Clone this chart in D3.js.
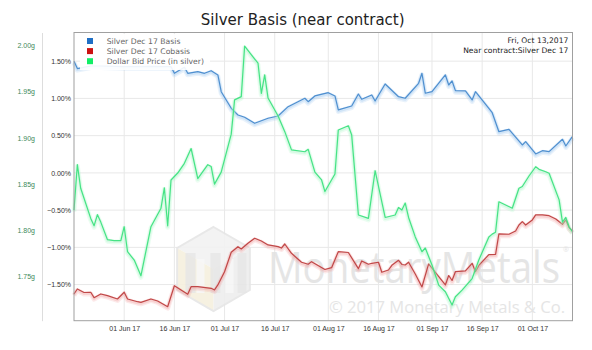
<!DOCTYPE html>
<html>
<head>
<meta charset="utf-8">
<script src="https://cdn.jsdelivr.net/npm/d3@7"></script>
<style>
  body { margin: 0; background: #fff; }
  svg { display: block; font-family: "DejaVu Sans", sans-serif; }
</style>
</head>
<body>
<div id="chart"></div>
<script>
// Data
const basisDates = ["2017-05-17","2017-05-18","2017-05-22","2017-05-25","2017-06-01","2017-06-09","2017-06-15","2017-06-16",
  "2017-06-19","2017-06-20","2017-06-23","2017-06-25","2017-06-27","2017-06-29","2017-06-30","2017-07-03","2017-07-05",
  "2017-07-07","2017-07-10","2017-07-14","2017-07-17","2017-07-20","2017-07-25","2017-07-26","2017-07-28","2017-08-01",
  "2017-08-03","2017-08-04","2017-08-08","2017-08-10","2017-08-11","2017-08-14","2017-08-15","2017-08-18","2017-08-22",
  "2017-08-24","2017-08-28","2017-08-29","2017-08-30","2017-09-01","2017-09-05","2017-09-06","2017-09-07","2017-09-08",
  "2017-09-11","2017-09-13","2017-09-14","2017-09-18","2017-09-19","2017-09-21","2017-09-24","2017-09-28","2017-09-29",
  "2017-10-02","2017-10-04","2017-10-06","2017-10-10","2017-10-11","2017-10-13"];
const basisValues = [1.50,1.40,1.435,1.435,1.426,1.43,1.426,1.337,
  1.418,1.337,1.359,1.337,1.372,1.315,1.09,0.867,0.777,
  0.747,0.666,0.733,0.764,0.889,1.002,0.956,1.033,1.077,
  1.033,0.845,0.898,1.059,0.988,1.046,0.965,1.194,1.023,
  1.002,1.203,1.337,1.069,1.090,1.315,1.180,1.234,1.104,
  1.100,0.979,1.090,0.867,0.808,0.553,0.585,0.375,0.419,
  0.254,0.298,0.285,0.451,0.361,0.489];

const cobasisDates = ["2017-05-17","2017-05-18","2017-05-20","2017-05-22","2017-05-23","2017-05-25","2017-05-27","2017-05-30",
  "2017-06-01","2017-06-02","2017-06-05","2017-06-06","2017-06-09","2017-06-11","2017-06-14","2017-06-16","2017-06-20",
  "2017-06-21","2017-06-23","2017-06-27","2017-06-28","2017-06-29","2017-07-01","2017-07-03","2017-07-05","2017-07-06",
  "2017-07-08","2017-07-10","2017-07-12","2017-07-14","2017-07-17","2017-07-18","2017-07-19","2017-07-21","2017-07-24",
  "2017-07-26","2017-07-27","2017-07-31","2017-08-02","2017-08-04","2017-08-07","2017-08-10","2017-08-11","2017-08-13",
  "2017-08-14","2017-08-16","2017-08-17","2017-08-19","2017-08-20","2017-08-22","2017-08-23","2017-08-24","2017-08-25",
  "2017-08-27","2017-08-29","2017-08-31","2017-09-02","2017-09-05","2017-09-06","2017-09-07","2017-09-08","2017-09-11",
  "2017-09-13","2017-09-14","2017-09-15","2017-09-18","2017-09-20","2017-09-21","2017-09-24","2017-09-26","2017-09-27",
  "2017-09-28","2017-09-29","2017-10-01","2017-10-02","2017-10-04","2017-10-06","2017-10-08","2017-10-10","2017-10-11",
  "2017-10-12","2017-10-13"];
const cobasisValues = [-1.626,-1.559,-1.606,-1.603,-1.676,-1.626,-1.649,-1.693,
  -1.603,-1.693,-1.730,-1.738,-1.693,-1.720,-1.797,-1.515,-1.630,
  -1.528,-1.528,-1.550,-1.572,-1.505,-1.327,-1.066,-0.991,-1.022,
  -0.945,-0.878,-0.914,-0.968,-0.991,-1.009,-0.955,-1.080,-1.200,
  -1.227,-1.192,-1.297,-1.273,-1.058,-1.069,-1.286,-1.183,-1.227,
  -1.214,-1.200,-1.335,-1.304,-1.241,-1.174,-1.230,-1.237,-1.200,
  -1.358,-1.532,-1.223,-1.337,-1.505,-1.378,-1.445,-1.327,-1.317,
  -1.214,-1.327,-1.243,-1.098,-1.096,-0.820,-0.824,-0.780,-0.700,
  -0.655,-0.700,-0.632,-0.565,-0.565,-0.575,-0.619,-0.690,-0.632,
  -0.736,-0.780];

const bidDates = ["2017-05-17","2017-05-18","2017-05-19","2017-05-22","2017-05-23","2017-05-24","2017-05-25","2017-05-27",
  "2017-05-29","2017-05-31","2017-06-01","2017-06-02","2017-06-04","2017-06-06","2017-06-09","2017-06-12","2017-06-13",
  "2017-06-14","2017-06-15","2017-06-17","2017-06-19","2017-06-21","2017-06-23","2017-06-26","2017-06-27","2017-06-28",
  "2017-06-30","2017-07-03","2017-07-04","2017-07-06","2017-07-07","2017-07-11","2017-07-12","2017-07-13","2017-07-14",
  "2017-07-17","2017-07-19","2017-07-21","2017-07-25","2017-07-26","2017-07-28","2017-07-30","2017-07-31","2017-08-03",
  "2017-08-04","2017-08-07","2017-08-08","2017-08-10","2017-08-13","2017-08-15","2017-08-18","2017-08-21","2017-08-22",
  "2017-08-23","2017-08-24","2017-08-25","2017-08-27","2017-08-29","2017-08-30","2017-09-01","2017-09-03","2017-09-05",
  "2017-09-07","2017-09-08","2017-09-10","2017-09-13","2017-09-15","2017-09-18","2017-09-19","2017-09-20","2017-09-21",
  "2017-09-25","2017-09-27","2017-09-28","2017-09-30","2017-10-02","2017-10-03","2017-10-05","2017-10-06","2017-10-09",
  "2017-10-10","2017-10-11","2017-10-12","2017-10-13"];
const bidValues = [1.822,1.871,1.8455,1.813,1.805,1.817,1.809,1.790,
  1.789,1.789,1.804,1.777,1.768,1.751,1.804,1.824,1.846,
  1.805,1.8545,1.862,1.8725,1.8885,1.856,1.871,1.869,1.850,
  1.863,1.904,1.941,1.9445,1.999,1.9806,1.948,1.968,1.943,
  1.9236,1.9067,1.887,1.885,1.8876,1.863,1.8545,1.842,1.861,
  1.9085,1.913,1.903,1.8167,1.813,1.8645,1.814,1.8167,1.8248,
  1.822,1.8296,1.814,1.793,1.777,1.781,1.7626,1.741,1.7338,
  1.7194,1.7284,1.7356,1.748,1.768,1.793,1.796,1.798,1.831,
  1.824,1.8455,1.8474,1.8588,1.8688,1.866,1.8634,1.8617,1.833,
  1.809,1.814,1.8037,1.7986];

const pctTicks = [-1.5, -1.0, -0.5, 0, 0.5, 1.0, 1.5];
const gramTicks = [1.75, 1.80, 1.85, 1.90, 1.95, 2.00];
const dateTicks = ["2017-06-01","2017-06-16","2017-07-01","2017-07-16","2017-08-01","2017-08-16","2017-09-01","2017-09-16","2017-10-01"];
const seriesNames = ["Silver Dec 17 Basis", "Silver Dec 17 Cobasis", "Dollar Bid Price (in silver)"];

// Layout
const W = 592, H = 350;
const plot = {left: 74, right: 572.5, top: 32.5, bottom: 320.7};
const parse = d3.timeParse("%Y-%m-%d");

const svg = d3.select("#chart").append("svg")
    .attr("width", W)
    .attr("height", H);

// Scales
const x = d3.scaleTime()
    .domain([parse("2017-05-17"), parse("2017-10-13")])
    .range([plot.left, plot.right]);
const yPct = d3.scaleLinear().domain([-1.985, 1.885]).range([plot.bottom, plot.top]);
const yGram = d3.scaleLinear().domain([1.7025, 2.0138]).range([plot.bottom, plot.top]);

// Title
svg.append("text")
    .attr("x", 302.7).attr("y", 25)
    .attr("text-anchor", "middle")
    .style("font-size", "15px")
    .style("fill", "#222")
    .text("Silver Basis (near contract)");

// Grid
svg.append("g").selectAll("line")
    .data(pctTicks)
    .enter().append("line")
    .attr("x1", plot.left).attr("x2", plot.right)
    .attr("y1", d => yPct(d)).attr("y2", d => yPct(d))
    .style("stroke", "#e8e8e8");

svg.append("g").selectAll("line")
    .data(dateTicks.map(parse))
    .enter().append("line")
    .attr("x1", d => x(d)).attr("x2", d => x(d))
    .attr("y1", plot.top).attr("y2", plot.bottom)
    .style("stroke", "#e8e8e8");

// Watermark
const wm = svg.append("g").attr("class", "watermark").style("opacity", 0.9);
const cx = 213.5, cy = 269, R = 42;
const hex = d3.range(6).map(i => {
    const a = Math.PI / 180 * (60 * i - 90);
    return [cx + R * Math.cos(a), cy + R * Math.sin(a)];
});
// faces of the cube logo
wm.append("polygon").attr("points", [hex[0], hex[1], [cx, cy], hex[5]].join(" ")).style("fill", "#f2f2f2");
wm.append("polygon").attr("points", [hex[5], [cx, cy], hex[3], hex[4]].join(" ")).style("fill", "#f6f0de");
wm.append("polygon").attr("points", [[cx, cy], hex[1], hex[2], hex[3]].join(" ")).style("fill", "#eeeeee");
wm.append("polygon").attr("points", hex.join(" ")).style("fill", "none").style("stroke", "#e6e6e6").style("stroke-width", 2);
[[-28, 10], [-17, 8], [-3, 10], [12, 8], [24, 9]].forEach(([dx, w], i) => {
    wm.append("rect")
        .attr("x", cx + dx).attr("y", cy - 16 + (i % 2) * 6)
        .attr("width", w).attr("height", 40 - (i % 2) * 6)
        .style("fill", i % 2 ? "#f8f8f8" : "#e4e4e4")
        .style("opacity", 0.8);
});
wm.append("text")
    .attr("x", 268).attr("y", 283.3)
    .attr("textLength", 292).attr("lengthAdjust", "spacingAndGlyphs")
    .style("font-family", "'Open Sans', sans-serif")
    .style("font-size", "44px")
    .style("fill", "#e3e3e3")
    .text("MonetaryMetals");
wm.append("text")
    .attr("x", 563).attr("y", 252)
    .style("font-family", "'Open Sans', sans-serif")
    .style("font-size", "7px")
    .style("fill", "#e3e3e3")
    .text("®");
wm.append("text")
    .attr("x", 329).attr("y", 313)
    .attr("textLength", 236).attr("lengthAdjust", "spacingAndGlyphs")
    .style("font-family", "'Open Sans', sans-serif")
    .style("font-size", "16px")
    .style("fill", "#e3e3e3")
    .text("© 2017 Monetary Metals & Co.");

// Lines
function drawSeries(dates, values, yScale, color, glow) {
    const data = dates.map((d, i) => ({date: parse(d), value: values[i]}));
    const line = d3.line()
        .x(d => x(d.date))
        .y(d => yScale(d.value));
    const g = svg.append("g");
    g.append("path").datum(data)
        .attr("d", line)
        .attr("transform", "translate(0,1.5)")
        .style("fill", "none").style("stroke", glow)
        .style("stroke-width", 5).style("stroke-opacity", 0.22)
        .style("stroke-linejoin", "round");
    g.append("path").datum(data)
        .attr("d", line)
        .attr("transform", "translate(0,1)")
        .style("fill", "none").style("stroke", glow)
        .style("stroke-width", 3).style("stroke-opacity", 0.32)
        .style("stroke-linejoin", "round");
    g.append("path").datum(data)
        .attr("d", line)
        .style("fill", "none").style("stroke", color)
        .style("stroke-width", 1.2)
        .style("stroke-linejoin", "round");
}

drawSeries(basisDates, basisValues, yPct, "#4f8fcf", "#9cc6ee");
drawSeries(cobasisDates, cobasisValues, yPct, "#c04848", "#f0a0a0");
drawSeries(bidDates, bidValues, yGram, "#46e385", "#a8f5c6");

// Plot border
svg.append("rect")
    .attr("x", plot.left).attr("y", plot.top)
    .attr("width", plot.right - plot.left).attr("height", plot.bottom - plot.top)
    .style("fill", "none").style("stroke", "#a0a0a0");

// Axes
const pctAxis = svg.append("g")
    .attr("transform", `translate(${plot.left},0)`)
    .call(d3.axisLeft(yPct).tickValues(pctTicks).tickSize(0).tickPadding(3)
        .tickFormat(d => d3.format(".2f")(d) + "%"));
pctAxis.select(".domain").remove();
pctAxis.selectAll("text").style("font-size", "7px").style("fill", "#333");

const gramAxis = svg.append("g")
    .attr("transform", "translate(42,0)")
    .call(d3.axisLeft(yGram).tickValues(gramTicks).tickSize(0).tickPadding(7)
        .tickFormat(d => d3.format(".2f")(d) + "g"));
gramAxis.select(".domain").style("stroke", "#ddd");
gramAxis.selectAll("text").style("font-size", "7px").style("fill", "#3c8a5a");

const xAxis = svg.append("g")
    .attr("transform", `translate(0,${plot.bottom})`)
    .call(d3.axisBottom(x).tickValues(dateTicks.map(parse)).tickSize(0).tickPadding(5)
        .tickFormat(d3.timeFormat("%d %b %y")));
xAxis.select(".domain").remove();
xAxis.selectAll("text").style("font-size", "7px").style("fill", "#333");

// Legend
const legendColors = ["#1f6fc5", "#cc1111", "#11ee66"];
svg.append("rect")
    .attr("x", 80).attr("y", 34)
    .attr("width", 130).attr("height", 36)
    .style("fill", "#fff").style("opacity", 0.9);
const legend = svg.append("g").selectAll("g")
    .data(seriesNames)
    .enter().append("g")
    .attr("transform", (d, i) => `translate(87,${41 + i * 10.1})`);
legend.append("rect")
    .attr("x", 0).attr("y", -3)
    .attr("width", 6).attr("height", 6)
    .style("fill", (d, i) => legendColors[i]);
legend.append("text")
    .attr("x", 19.7).attr("y", 2.8)
    .style("font-size", "7.7px")
    .style("fill", "#666")
    .text(d => d);

// Top-right info
svg.append("text")
    .attr("x", 568.3).attr("y", 43)
    .attr("text-anchor", "end")
    .style("font-size", "7.6px").style("fill", "#222")
    .text("Fri, Oct 13,2017");
svg.append("text")
    .attr("x", 568.3).attr("y", 53)
    .attr("text-anchor", "end")
    .style("font-size", "7.6px").style("fill", "#222")
    .text("Near contract:Silver Dec 17");
</script>
</body>
</html>
